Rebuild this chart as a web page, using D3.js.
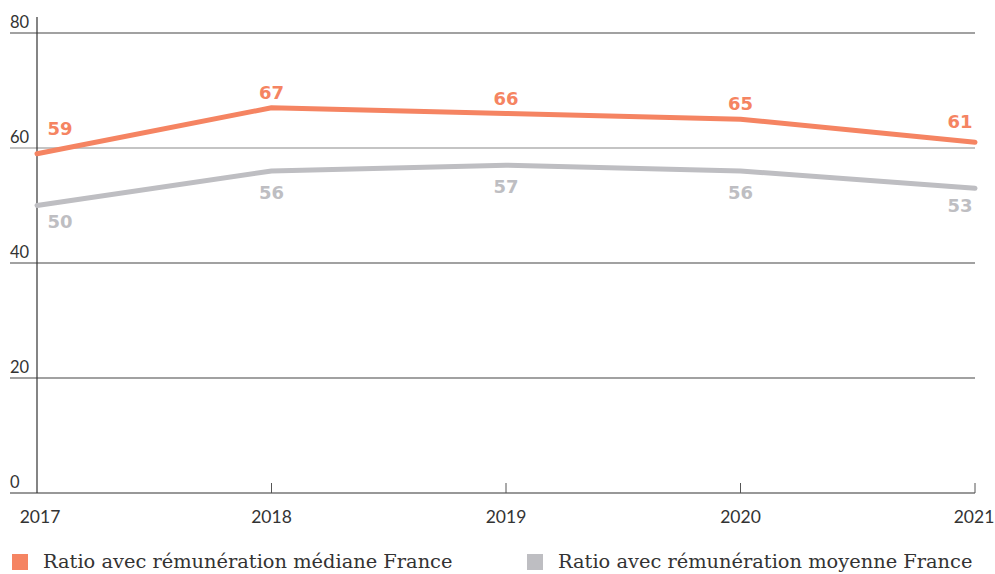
<!DOCTYPE html>
<html><head><meta charset="utf-8">
<script src="https://cdn.jsdelivr.net/npm/d3@7"></script>
<style>body{margin:0;background:#fff}svg{display:block}</style>
</head><body>
<svg id="c" width="995" height="574"></svg>
<script>
const years = ["2017","2018","2019","2020","2021"];
const medianValues = [59,67,66,65,61];
const moyenneValues = [50,56,57,56,53];
const yTicks = [0,20,40,60,80];
const seriesNames = ["Ratio avec rémunération médiane France","Ratio avec rémunération moyenne France"];
const colors = ["#F58462","#BEBEC2"];

const svg = d3.select("#c");
const x = d3.scalePoint().domain(years).range([37,975]);
const y = d3.scaleLinear().domain([0,80]).range([493,33]);
const font = "Lato, 'Noto Sans', sans-serif";
const labelFont = "'DejaVu Sans', sans-serif";

// gridlines
svg.append("g").selectAll("line").data(yTicks).join("line")
  .attr("x1",10).attr("x2",975).attr("y1",d=>y(d)).attr("y2",d=>y(d))
  .attr("stroke",d=>d===0?"#333":(d===60?"#8a8a8a":"#444")).attr("stroke-width",1.2);
svg.append("g").selectAll("text").data(yTicks).join("text")
  .attr("x",10).attr("y",d=>y(d)-5).text(d=>d)
  .attr("font-family",font).attr("font-size",16.5).attr("fill","#333");
// y axis line
svg.append("line").attr("x1",37).attr("x2",37).attr("y1",17).attr("y2",493)
  .attr("stroke","#333").attr("stroke-width",1.2);
// x ticks
svg.append("g").selectAll("line").data(years.slice(1)).join("line")
  .attr("x1",d=>x(d)).attr("x2",d=>x(d)).attr("y1",483).attr("y2",493)
  .attr("stroke","#555").attr("stroke-width",1);
svg.append("g").selectAll("text").data(years).join("text")
  .attr("x",(d,i)=>i===0?40:(i===years.length-1?974:x(d)))
  .attr("y",523).attr("text-anchor","middle").text(d=>d)
  .attr("font-family",font).attr("font-size",17.5).attr("fill","#333");

const line = d3.line().x((d,i)=>x(years[i])).y(d=>y(d));
[medianValues, moyenneValues].forEach((vals,k)=>{
  svg.append("path").datum(vals).attr("d",line).attr("fill","none")
    .attr("stroke",colors[k]).attr("stroke-width",5).attr("stroke-linecap","round").attr("stroke-linejoin","round");
});
// labels
function lx(i){ return i===0? x(years[0])+23 : (i===years.length-1? x(years[i])-15 : x(years[i])); }
svg.append("g").selectAll("text").data(medianValues).join("text")
  .attr("x",(d,i)=>lx(i)).attr("y",(d,i)=>y(d)-(i===0?19:(i===years.length-1?14:9)))
  .attr("text-anchor","middle").text(d=>d)
  .attr("font-family",labelFont).attr("font-weight","bold").attr("font-size",18).attr("fill",colors[0]);
svg.append("g").selectAll("text").data(moyenneValues).join("text")
  .attr("x",(d,i)=>lx(i)).attr("y",(d,i)=>y(d)+(i===0?22:(i===years.length-1?24:28)))
  .attr("text-anchor","middle").text(d=>d)
  .attr("font-family",labelFont).attr("font-weight","bold").attr("font-size",18).attr("fill",colors[1]);

// legend
const lg = svg.append("g");
const lpos = [12,527];
seriesNames.forEach((n,k)=>{
  lg.append("rect").attr("x",lpos[k]).attr("y",554).attr("width",16).attr("height",16).attr("fill",colors[k]);
  lg.append("text").attr("x",lpos[k]+31).attr("y",568).text(n)
    .attr("font-family","'DejaVu Serif', serif").attr("font-size",19.4).attr("fill","#333");
});
</script>
</body></html>
